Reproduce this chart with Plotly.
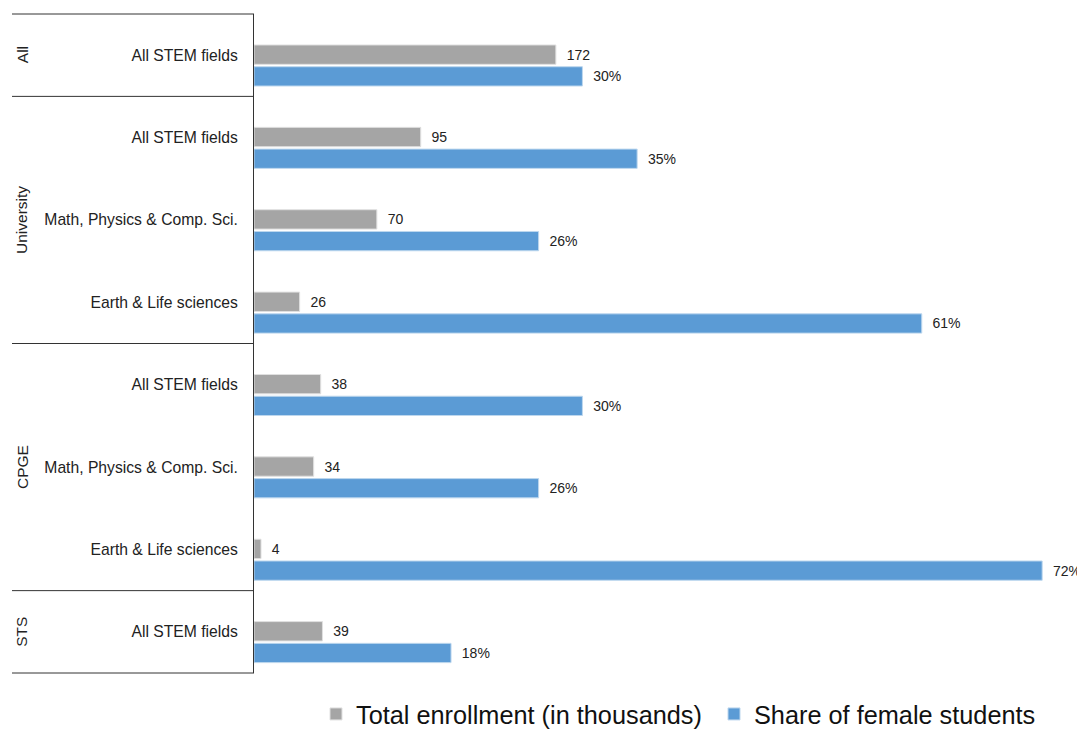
import plotly.graph_objects as go

# ---- data ----
groups = ["All", "University", "University", "University", "CPGE", "CPGE", "CPGE", "STS"]
fields = ["All STEM fields", "All STEM fields", "Math, Physics & Comp. Sci.", "Earth & Life sciences",
          "All STEM fields", "Math, Physics & Comp. Sci.", "Earth & Life sciences", "All STEM fields"]
enrollment = [172, 95, 70, 26, 38, 34, 4, 39]          # thousands
female_share = [30, 35, 26, 61, 30, 26, 72, 18]        # percent

keys = [f"{g} | {f}" for g, f in zip(groups, fields)]

GRAY = "#A5A5A5"
BLUE = "#5B9BD5"
FONT = "Liberation Sans, Arial, sans-serif"
PAD = "\u00a0\u00a0"

fig = go.Figure()
fig.add_trace(go.Bar(
    y=keys, x=enrollment, orientation="h", name="Total enrollment (in thousands)",
    marker=dict(color=GRAY, line=dict(color="#E0E0E0", width=1)),
    width=0.235, offset=-0.124,
    text=[PAD + str(v) for v in enrollment], textposition="outside",
    textfont=dict(size=14, color="#222222", family=FONT),
    cliponaxis=False, xaxis="x", yaxis="y",
))
fig.add_trace(go.Bar(
    y=keys, x=female_share, orientation="h", name="Share of female students",
    marker=dict(color=BLUE, line=dict(color="#BDD7EE", width=1)),
    width=0.234, offset=0.14,
    text=[PAD + f"{v}%" for v in female_share], textposition="outside",
    textfont=dict(size=14, color="#222222", family=FONT),
    cliponaxis=False, xaxis="x2", yaxis="y",
))

n = len(keys)
OFF = 8                      # page body margin
W, H = 1085 - OFF, 729 - OFF
L, R, T, B = 254 - OFF, 10, 14 - OFF, 56
plot_w = W - L - R
plot_h = H - T - B

shapes = []
annotations = []
x_left = (12 - OFF - L) / plot_w
bounds = [0]
i = 0
while i < n:
    j = i
    while j < n and groups[j] == groups[i]:
        j += 1
    bounds.append(j)
    mid = (i + j - 1) / 2
    annotations.append(dict(
        xref="paper", yref="y", x=(22 - OFF - L) / plot_w, y=mid, text=groups[i],
        textangle=-90, showarrow=False, xanchor="center", yanchor="middle",
        font=dict(size=15.5, color="#222222", family=FONT),
    ))
    i = j
for b in bounds:
    yp = 1 - b / n
    shapes.append(dict(type="line", xref="paper", yref="paper", x0=x_left, x1=0, y0=yp, y1=yp,
                       line=dict(color="#333333", width=1)))

fig.update_layout(
    width=W, height=H,
    margin=dict(l=L, r=R, t=T, b=B, autoexpand=False),
    paper_bgcolor="white", plot_bgcolor="white",
    font=dict(family=FONT, color="#222222"),
    barmode="overlay",
    xaxis=dict(range=[0, 467.8], visible=False, showgrid=False, zeroline=False),
    xaxis2=dict(range=[0, 75], overlaying="x", visible=False, showgrid=False, zeroline=False),
    yaxis=dict(
        type="category", categoryorder="array", categoryarray=keys,
        autorange="reversed", tickmode="array", tickvals=keys, ticktext=fields,
        showgrid=False, zeroline=False, showline=True, linecolor="#333333", linewidth=1,
        ticks="", ticklabelstandoff=12,
        tickfont=dict(size=15.7, color="#222222", family=FONT),
    ),
    shapes=shapes,
    annotations=annotations,
    showlegend=True,
    legend=dict(
        orientation="h", x=(316 - OFF - L) / plot_w, y=-41 / plot_h, xanchor="left", yanchor="middle",
        font=dict(size=25.3, color="#111111", family=FONT),
        entrywidth=353, entrywidthmode="pixels",
        traceorder="normal", bgcolor="rgba(0,0,0,0)",
    ),
)

fig.write_html("out.html")
